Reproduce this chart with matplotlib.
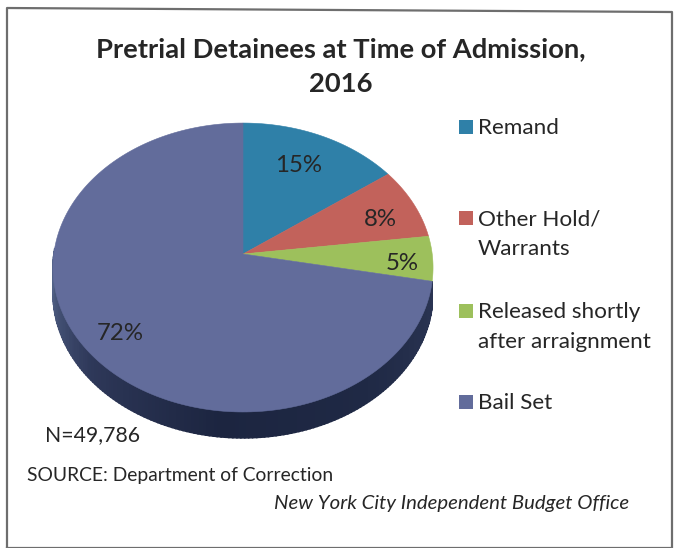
import numpy as np
import matplotlib
matplotlib.use("Agg")
import matplotlib.pyplot as plt

categories = ['Remand', 'Other Hold/\nWarrants', 'Released shortly\nafter arraignment', 'Bail Set']
values = [15, 8, 5, 72]
labels = ['15%', '8%', '5%', '72%']
colors = ['#2f80a8', '#c2625b', '#9dc05c', '#626c9b']

plt.rcParams['font.family'] = 'Lato'
INK = '#262626'
CX, CY = 243, 254      # where the slices meet
A, B, K = 143.2, 189.2, 0.0935   # tilt of the pie
DEPTH = 26


def project(theta):
    # theta in radians, clockwise from 12 o'clock
    x, y = np.sin(theta), np.cos(theta)
    w = 1 + K * y
    return CX + B * x / w, CY - A * y / w


fig = plt.figure(figsize=(6.74, 5.48), dpi=100)
ax = fig.add_axes([0, 0, 1, 1])
ax.set_xlim(0, 674)
ax.set_ylim(548, 0)
ax.axis('off')

# scanned page frame
ax.plot([7, 7, 672, 672, 7], [548, 8, 12, 548, 548], color='#6e6e6e', lw=1.6)

# side of the pie, only the front of the big slice shows
side_cmap = matplotlib.colors.LinearSegmentedColormap.from_list(
    'side', ['#56668c', '#2e3859', '#1c2540', '#1f2945', '#2b3553'])
start = np.radians(360 * sum(values[:3]) / sum(values))
angles = np.linspace(start, np.radians(272), 160)
for i in range(len(angles) - 1):
    t = np.linspace(angles[i], angles[i + 1] + 0.004, 3)
    px, py = project(t)
    ax.fill(np.r_[px, px[::-1]], np.r_[py, py[::-1] + DEPTH],
            color=side_cmap(1 - i / (len(angles) - 2)), lw=1.0, zorder=2)

# top of the pie
edges = np.cumsum([0] + values) / sum(values) * 2 * np.pi
for i, c in enumerate(colors):
    t = np.linspace(edges[i], edges[i + 1], 200)
    px, py = project(t)
    ax.fill(np.r_[CX, px], np.r_[CY, py], color=c, lw=0.4, zorder=3)

label_x = [299, 380, 402, 120]
label_y = [166, 220, 263, 333]
for s, x, y in zip(labels, label_x, label_y):
    ax.text(x, y, s, fontsize=17.3, color=INK, ha='center', va='center', zorder=4)

# title
ax.text(341, 49, 'Pretrial Detainees at Time of Admission,', fontsize=19.7, fontweight='bold',
        color=INK, ha='center', va='center')
ax.text(341, 84, '2016', fontsize=19.7, fontweight='bold', color=INK, ha='center', va='center')

# legend
legend_y = [127, 218, 311, 402]
for cat, c, y in zip(categories, colors, legend_y):
    ax.scatter([465.5], [y], marker='s', s=100, color=c, linewidths=0, zorder=3)
    for j, line in enumerate(cat.split('\n')):
        ax.text(478, y + 1 + 30 * j, line, fontsize=16.2, color=INK, ha='left', va='center')

ax.text(45, 435, 'N=49,786', fontsize=15.3, color=INK, va='center')
ax.text(27, 475, 'SOURCE: Department of Correction', fontsize=13.9, color=INK, va='center')
ax.text(274, 504, 'New York City Independent Budget Office', fontsize=14.7, style='italic',
        color=INK, va='center')

fig.savefig('out.png', dpi=100)
